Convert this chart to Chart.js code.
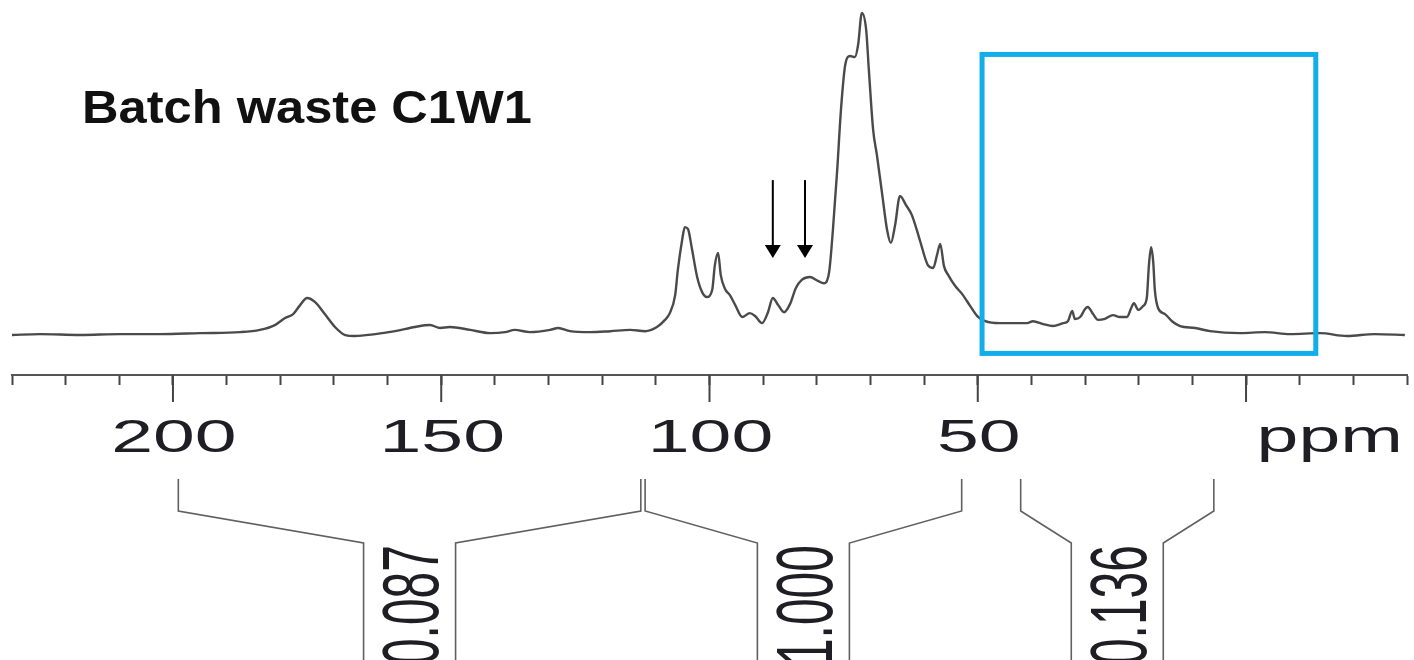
<!DOCTYPE html>
<html>
<head>
<meta charset="utf-8">
<title>Batch waste C1W1</title>
<script src="https://cdn.jsdelivr.net/npm/chart.js@4/dist/chart.umd.min.js"></script>
<style>
    html, body { margin: 0; padding: 0; background: #ffffff; }
    #spectrum { display: block; }
</style>
</head>
<body>
<canvas id="spectrum" width="1414" height="660"></canvas>
<script>
/* 13C CP/MAS spectrum: chemical shift (ppm) and relative intensity */
const shiftPpm = [
    230.0, 224.8, 217.3, 209.9, 202.4, 195.0, 187.5, 183.8, 181.0, 179.1,
    177.6, 176.3, 175.0, 173.5, 171.7, 169.8, 167.9, 166.1, 162.3, 158.6,
    154.9, 152.1, 150.2, 148.4, 144.6, 140.9, 138.1, 136.3, 133.5, 129.7,
    128.2, 126.0, 122.3, 118.5, 114.8, 112.0, 109.8, 108.3, 107.4, 106.4,
    105.9, 105.1, 104.6, 104.0, 103.3, 102.3, 101.4, 100.5, 99.5, 99.0,
    98.4, 97.9, 97.1, 96.2, 95.2, 93.9, 92.5, 91.5, 90.2, 89.1,
    88.2, 87.2, 86.1, 85.0, 83.9, 82.8, 81.3, 79.8, 78.7, 77.7,
    77.0, 76.2, 75.5, 74.7, 73.8, 72.9, 72.3, 71.6, 70.8, 70.3,
    69.5, 68.8, 67.8, 66.9, 66.2, 65.4, 64.5, 63.4, 62.3, 60.8,
    59.3, 58.3, 57.6, 57.0, 56.3, 55.5, 54.2, 52.9, 51.4, 50.1,
    48.6, 45.9, 43.1, 40.8, 39.7, 37.8, 36.0, 34.1, 33.2, 32.4,
    31.9, 30.9, 30.0, 29.5, 28.5, 27.6, 26.3, 24.8, 23.5, 22.2,
    21.4, 20.9, 20.1, 19.2, 18.5, 18.1, 17.7, 17.3, 17.0, 16.4,
    15.1, 13.8, 12.3, 9.5, 6.7, 1.1, -3.5, -8.2, -13.8, -18.8,
    -24.0, -29.6
];
const intensity = [
    0.0, 0.3, 0.0, 0.3, 0.3, 0.6, 0.9, 1.6, 3.1, 5.3,
    6.5, 9.3, 11.5, 10.2, 6.5, 2.5, 0.0, -0.3, 0.3, 1.2,
    2.5, 3.1, 2.2, 2.5, 1.6, 0.6, 0.9, 1.6, 0.9, 1.6,
    2.2, 1.2, 0.9, 1.2, 1.6, 1.2, 2.5, 4.7, 6.8, 12.4,
    20.2, 29.5, 33.5, 32.9, 27.0, 18.0, 13.4, 11.8, 14.0, 21.7,
    25.5, 18.6, 14.3, 12.4, 9.3, 5.6, 6.8, 5.9, 3.7, 7.1,
    11.5, 9.3, 7.1, 9.6, 14.6, 17.1, 18.0, 16.8, 16.1, 19.6,
    32.6, 51.2, 69.9, 83.9, 86.6, 86.3, 90.1, 100.0, 94.7, 82.3,
    63.7, 55.9, 43.5, 32.6, 28.6, 34.2, 43.2, 40.4, 37.3, 29.5,
    21.7, 20.8, 24.8, 28.3, 21.4, 18.6, 15.2, 12.7, 9.0, 5.9,
    4.3, 3.7, 3.7, 3.7, 4.3, 3.4, 2.8, 3.7, 4.3, 7.5,
    5.0, 5.6, 8.1, 8.7, 6.5, 4.7, 5.0, 6.2, 5.6, 5.6,
    8.4, 9.9, 7.8, 9.0, 11.5, 21.7, 27.3, 22.7, 14.0, 8.4,
    6.5, 4.3, 2.8, 2.2, 1.2, 0.6, 0.9, 0.3, 0.6, -0.3,
    0.3, 0.0
];

/* Axis: labelled major ticks and the unit label */
const majorTicks = [200, 150, 100, 50, 0];
const labelledTicks = [200, 150, 100, 50];
const unitLabel = 'ppm';
const unitPosition = -15.6;

/* Integral regions (ppm) and their relative areas */
const integralStart = [199.0, 112.0, 42.0];
const integralEnd = [112.8, 53.0, 6.0];
const integralValues = [0.087, 1.000, 0.136];

/* Arrows marking the C4 shoulders */
const arrowPpm = [88.2, 82.2];
const arrowTop = 48.1;
const arrowTip = 23.9;

/* Highlighted aliphatic region */
const boxPpm = [49.2, -13.0];
const boxIntensity = [87.1, -5.7];

const titleText = 'Batch waste C1W1';
const FONT = '"Liberation Sans", Arial, Helvetica, sans-serif';

/* Draw text stretched horizontally around its anchor */
function stretchedText(ctx, text, x, y, sx) {
    ctx.save();
    ctx.translate(x, y);
    ctx.scale(sx, 1);
    ctx.fillText(text, 0, 0);
    ctx.restore();
}

/* Extra drawing: major ticks, labels, integrals, arrows, box, title */
const spectrumDecor = {
    id: 'spectrumDecor',
    afterDraw(chart) {
        const ctx = chart.ctx;
        const xs = chart.scales.x;
        const ys = chart.scales.y;
        const axisY = chart.chartArea.bottom;
        const H = chart.height;

        ctx.save();

        /* longer ticks every 50 ppm */
        ctx.strokeStyle = '#444';
        ctx.lineWidth = 2;
        majorTicks.forEach(function (v) {
            const px = xs.getPixelForValue(v);
            ctx.beginPath();
            ctx.moveTo(px, axisY);
            ctx.lineTo(px, axisY + 27);
            ctx.stroke();
        });

        /* tick labels */
        ctx.fillStyle = '#1e1e24';
        ctx.font = '47px ' + FONT;
        ctx.textAlign = 'center';
        ctx.textBaseline = 'alphabetic';
        labelledTicks.forEach(function (v) {
            stretchedText(ctx, String(v), xs.getPixelForValue(v) + 1, axisY + 77, 1.6);
        });
        stretchedText(ctx, unitLabel, xs.getPixelForValue(unitPosition), axisY + 77, 1.6);

        /* integral brackets */
        ctx.strokeStyle = '#606060';
        ctx.lineWidth = 1.6;
        const yTop = axisY + 104, yKnee = axisY + 136, yInner = axisY + 168;
        integralValues.forEach(function (val, i) {
            const a = xs.getPixelForValue(integralStart[i]);
            const b = xs.getPixelForValue(integralEnd[i]);
            const c = (a + b) / 2;
            ctx.beginPath();
            ctx.moveTo(a, yTop);
            ctx.lineTo(a, yKnee);
            ctx.lineTo(c - 46, yInner);
            ctx.lineTo(c - 46, H);
            ctx.moveTo(c + 46, H);
            ctx.lineTo(c + 46, yInner);
            ctx.lineTo(b, yKnee);
            ctx.lineTo(b, yTop);
            ctx.stroke();

            /* value, reading bottom to top */
            const size = 48;
            ctx.save();
            ctx.translate(c, yInner + 2);
            ctx.scale(1.65, 1);
            ctx.rotate(-Math.PI / 2);
            ctx.fillStyle = '#1e1e24';
            ctx.font = size + 'px ' + FONT;
            ctx.textAlign = 'right';
            ctx.textBaseline = 'alphabetic';
            ctx.fillText(val.toFixed(3), 0, size * 0.716 / 2);
            ctx.restore();
        });

        /* arrows */
        ctx.strokeStyle = '#000';
        ctx.fillStyle = '#000';
        ctx.lineWidth = 2;
        arrowPpm.forEach(function (p) {
            const px = xs.getPixelForValue(p);
            const top = ys.getPixelForValue(arrowTop);
            const tip = ys.getPixelForValue(arrowTip);
            ctx.beginPath();
            ctx.moveTo(px, top);
            ctx.lineTo(px, tip - 12);
            ctx.stroke();
            ctx.beginPath();
            ctx.moveTo(px - 8, tip - 13);
            ctx.lineTo(px + 8, tip - 13);
            ctx.lineTo(px, tip);
            ctx.closePath();
            ctx.fill();
        });

        /* highlight box */
        const bx0 = xs.getPixelForValue(boxPpm[0]);
        const bx1 = xs.getPixelForValue(boxPpm[1]);
        const by0 = ys.getPixelForValue(boxIntensity[0]);
        const by1 = ys.getPixelForValue(boxIntensity[1]);
        ctx.strokeStyle = '#12aeea';
        ctx.lineWidth = 5;
        ctx.strokeRect(bx0, by0, bx1 - bx0, by1 - by0);

        /* sample name */
        ctx.fillStyle = '#111';
        ctx.font = 'bold 46px ' + FONT;
        ctx.textAlign = 'left';
        stretchedText(ctx, titleText, 82, 123, 1.1);

        ctx.restore();
    }
};

const points = shiftPpm.map(function (p, i) {
    return { x: p, y: intensity[i] };
});

new Chart(document.getElementById('spectrum'), {
    type: 'line',
    data: {
        datasets: [{
            data: points,
            borderColor: '#4a4a4a',
            borderWidth: 2.4,
            pointRadius: 0,
            cubicInterpolationMode: 'monotone',
            fill: false,
            clip: false
        }]
    },
    options: {
        responsive: false,
        animation: false,
        devicePixelRatio: 1,
        layout: { padding: { left: 12, right: 7, top: 0, bottom: 0 } },
        plugins: {
            legend: { display: false },
            tooltip: { enabled: false }
        },
        scales: {
            x: {
                type: 'linear',
                reverse: true,
                min: -30,
                max: 230,
                afterFit: function (scale) { scale.height = 285; },
                ticks: { display: false, stepSize: 10, autoSkip: false },
                grid: {
                    drawOnChartArea: false,
                    drawTicks: true,
                    tickLength: 10,
                    tickWidth: 2,
                    tickColor: '#444'
                },
                border: { display: true, color: '#555', width: 2 }
            },
            y: {
                display: false,
                min: -12.4,
                max: 104
            }
        }
    },
    plugins: [spectrumDecor]
});
</script>
</body>
</html>
